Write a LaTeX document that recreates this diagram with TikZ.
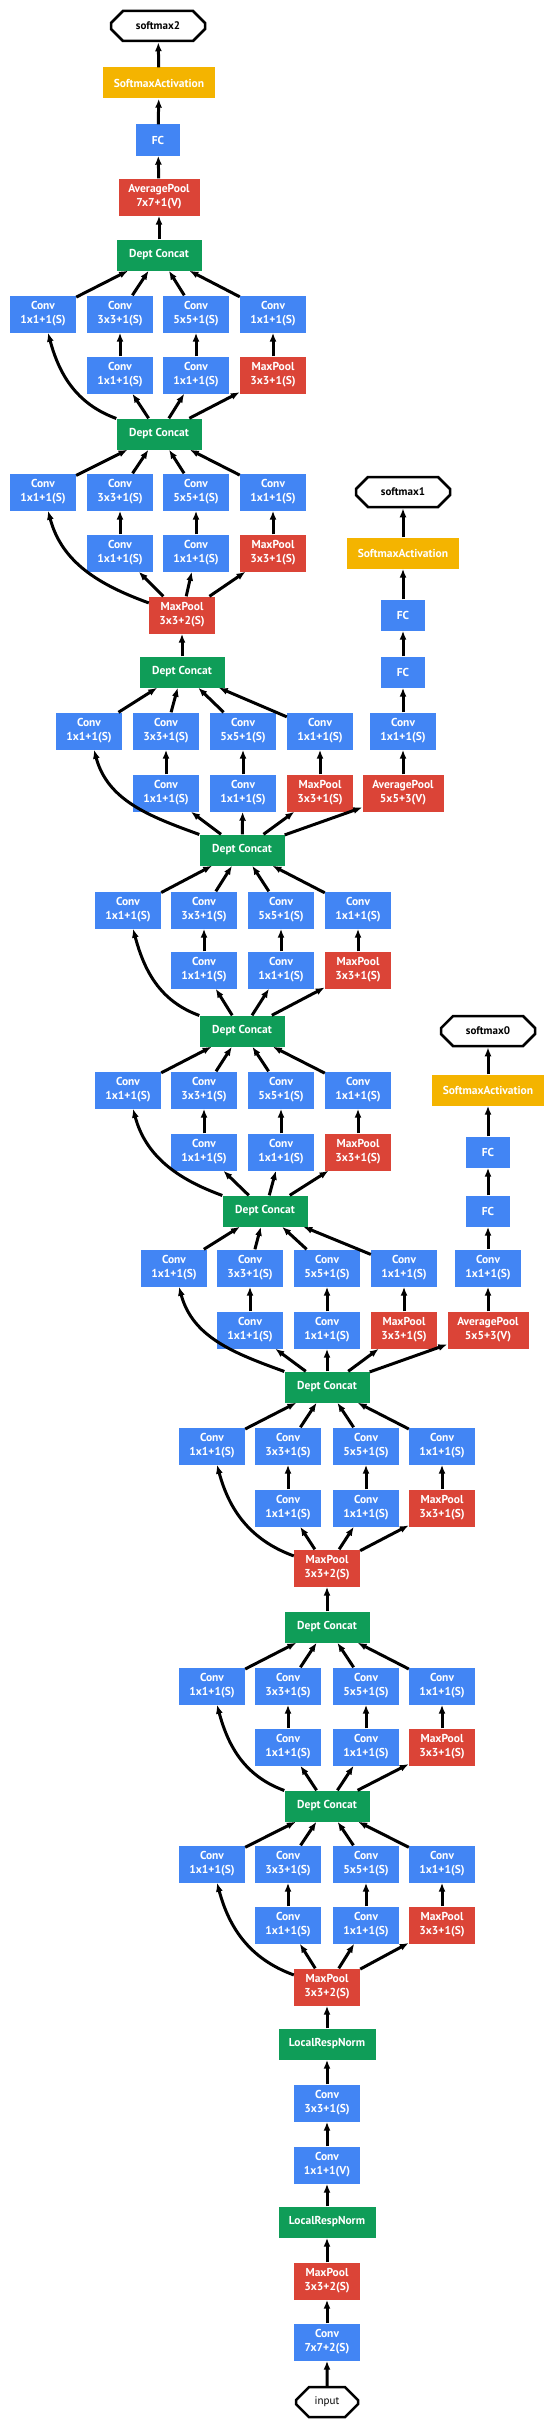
\documentclass[tikz,border=0pt]{standalone}
\usepackage{fontspec}
\setmainfont{PT Sans}
\usetikzlibrary{arrows.meta, shapes.misc}

\definecolor{gblue}{HTML}{4285F4}
\definecolor{gred}{HTML}{DB4437}
\definecolor{ggreen}{HTML}{0F9D58}
\definecolor{gyellow}{HTML}{F4B400}

\tikzset{
  layer/.style={fill=#1, text=white, font=\bfseries\fontsize{11.5}{14}\selectfont, align=center, inner sep=0pt, minimum height=31pt},
  conv/.style={layer=gblue, minimum width=66pt, minimum height=37pt},
  pool/.style={layer=gred, minimum width=66pt, minimum height=37pt},
  avgpool/.style={layer=gred, minimum width=81pt, minimum height=37pt},
  concat/.style={layer=ggreen, minimum width=85pt},
  lrn/.style={layer=ggreen, minimum width=97pt},
  fc/.style={layer=gblue, minimum width=44pt},
  act/.style={layer=gyellow, minimum width=112pt},
  term/.style={chamfered rectangle, chamfered rectangle xsep=13pt, chamfered rectangle ysep=8pt, draw, line width=2.5pt, minimum width=94pt, minimum height=30pt, inner sep=0pt, font=\bfseries\fontsize{11}{13}\selectfont},
  flow/.style={-{Latex[length=9pt,width=7pt]}, line width=3pt}
}

\begin{document}
\begin{tikzpicture}[x=1pt, y=1pt]
\useasboundingbox (0,0) rectangle (556,-2430);

% stem
\node[term, minimum width=62pt, font=\fontsize{11}{13}\selectfont] (input) at (327,-2402) {input};
\node[conv] (conv1) at (327,-2342) {Conv\\7x7+2(S)};
\node[pool] (mp1) at (327,-2281) {MaxPool\\3x3+2(S)};
\node[lrn] (lrn1) at (327,-2222) {LocalRespNorm};
\node[conv] (conv2) at (327,-2165) {Conv\\1x1+1(V)};
\node[conv] (conv3) at (327,-2103) {Conv\\3x3+1(S)};
\node[lrn] (lrn2) at (327,-2044) {LocalRespNorm};
\node[pool] (mp2) at (327,-1987) {MaxPool\\3x3+2(S)};
\draw[flow] (input) -- (conv1);
\draw[flow] (conv1) -- (mp1);
\draw[flow] (mp1) -- (lrn1);
\draw[flow] (lrn1) -- (conv2);
\draw[flow] (conv2) -- (conv3);
\draw[flow] (conv3) -- (lrn2);
\draw[flow] (lrn2) -- (mp2);

% concat and pooling nodes
\node[concat] (dc1) at (327,-1806) {Dept Concat};
\node[concat] (dc2) at (327,-1627) {Dept Concat};
\node[pool] (mp3) at (327,-1568) {MaxPool\\3x3+2(S)};
\node[concat] (dc3) at (327,-1387) {Dept Concat};
\node[concat] (dc4) at (265,-1211) {Dept Concat};
\node[concat] (dc5) at (242,-1031) {Dept Concat};
\node[concat] (dc6) at (242,-850) {Dept Concat};
\node[concat] (dc7) at (182,-672) {Dept Concat};
\node[pool] (mp4) at (182,-615) {MaxPool\\3x3+2(S)};
\node[concat] (dc8) at (159,-434) {Dept Concat};
\node[concat] (dc9) at (159,-255) {Dept Concat};
\draw[flow] (dc2) -- (mp3);
\draw[flow] (dc7) -- (mp4);

% inception modules
\foreach \m/\src/\dst/\ya/\yb/\xa/\xb/\xc/\xd in {
  3a/mp2/dc1/1864/1925/212/288/366/442,
  3b/dc1/dc2/1686/1747/212/288/366/442,
  4a/mp3/dc3/1446/1508/212/288/366/442,
  4b/dc3/dc4/1268/1330/174/250/327/404,
  4c/dc4/dc5/1090/1152/128/204/281/358,
  4d/dc5/dc6/910/970/128/204/281/358,
  4e/dc6/dc7/731/793/89/166/243/320,
  5a/mp4/dc8/492/553/43/120/196/273,
  5b/dc8/dc9/314/375/43/120/196/273}
{
  \node[conv] (\m-a1) at (\xa,-\ya) {Conv\\1x1+1(S)};
  \node[conv] (\m-a2) at (\xb,-\ya) {Conv\\3x3+1(S)};
  \node[conv] (\m-a3) at (\xc,-\ya) {Conv\\5x5+1(S)};
  \node[conv] (\m-a4) at (\xd,-\ya) {Conv\\1x1+1(S)};
  \node[conv] (\m-b2) at (\xb,-\yb) {Conv\\1x1+1(S)};
  \node[conv] (\m-b3) at (\xc,-\yb) {Conv\\1x1+1(S)};
  \node[pool] (\m-b4) at (\xd,-\yb) {MaxPool\\3x3+1(S)};
  \draw[flow] (\src) to[out=160, in=-75] (\m-a1);
  \foreach \k in {2,3,4} {
    \draw[flow] (\src) -- (\m-b\k);
    \draw[flow] (\m-b\k) -- (\m-a\k);
  }
  \foreach \k in {1,...,4}
    \draw[flow] (\m-a\k) -- (\dst);
}

% auxiliary classifier 0
\node[avgpool] (ap0) at (488,-1330) {AveragePool\\5x5+3(V)};
\node[conv] (cv0) at (488,-1268) {Conv\\1x1+1(S)};
\node[fc] (fc0a) at (488,-1211) {FC};
\node[fc] (fc0b) at (488,-1152) {FC};
\node[act] (sa0) at (488,-1090) {SoftmaxActivation};
\node[term] (sm0) at (488,-1031) {softmax0};
\draw[flow] (dc3) -- (ap0);
\draw[flow] (ap0) -- (cv0);
\draw[flow] (cv0) -- (fc0a);
\draw[flow] (fc0a) -- (fc0b);
\draw[flow] (fc0b) -- (sa0);
\draw[flow] (sa0) -- (sm0);

% auxiliary classifier 1
\node[avgpool] (ap1) at (403,-793) {AveragePool\\5x5+3(V)};
\node[conv] (cv1) at (403,-731) {Conv\\1x1+1(S)};
\node[fc] (fc1a) at (403,-672) {FC};
\node[fc] (fc1b) at (403,-615) {FC};
\node[act] (sa1) at (403,-553) {SoftmaxActivation};
\node[term] (sm1) at (403,-492) {softmax1};
\draw[flow] (dc6) -- (ap1);
\draw[flow] (ap1) -- (cv1);
\draw[flow] (cv1) -- (fc1a);
\draw[flow] (fc1a) -- (fc1b);
\draw[flow] (fc1b) -- (sa1);
\draw[flow] (sa1) -- (sm1);

% output
\node[avgpool] (ap2) at (159,-197) {AveragePool\\7x7+1(V)};
\node[fc] (fc2) at (158,-140) {FC};
\node[act] (sa2) at (159,-83) {SoftmaxActivation};
\node[term] (sm2) at (158,-26) {softmax2};
\draw[flow] (dc9) -- (ap2);
\draw[flow] (ap2) -- (fc2);
\draw[flow] (fc2) -- (sa2);
\draw[flow] (sa2) -- (sm2);
\end{tikzpicture}
\end{document}
